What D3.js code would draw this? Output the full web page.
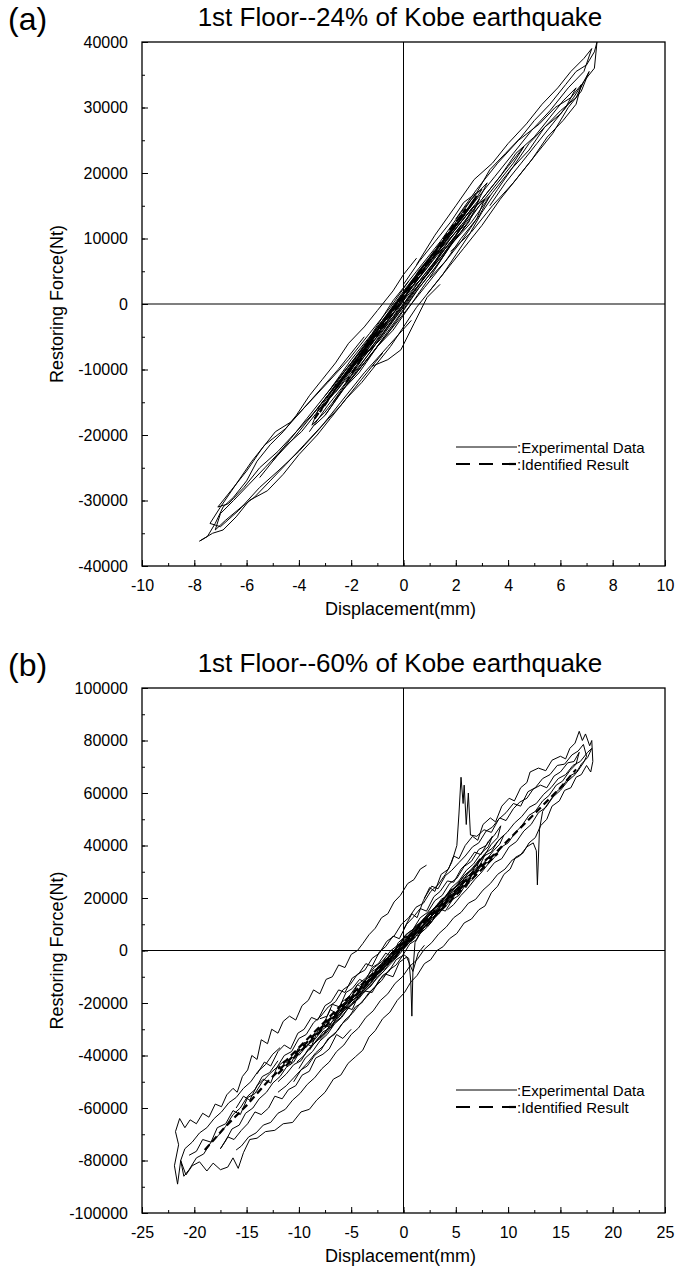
<!DOCTYPE html>
<html>
<head>
<meta charset="utf-8">
<script src="https://cdn.jsdelivr.net/npm/d3@7"></script>
<style>
  body { margin: 0; background: #fff; }
  text { font-family: "Liberation Sans", Arial, sans-serif; fill: #000; }
</style>
</head>
<body>
<div id="chart"></div>
<script>
// ---------------- data (displacement mm, restoring force N) ----------------

const xTicksA = [-10, -8, -6, -4, -2, 0, 2, 4, 6, 8, 10];
const yTicksA = [-40000, -30000, -20000, -10000, 0, 10000, 20000, 30000, 40000];
const xTicksB = [-25, -20, -15, -10, -5, 0, 5, 10, 15, 20, 25];
const yTicksB = [-100000, -80000, -60000, -40000, -20000, 0, 20000, 40000, 60000, 80000, 100000];

const titles = ["1st Floor--24% of Kobe earthquake", "1st Floor--60% of Kobe earthquake"];
const legendLabels = [":Experimental Data", ":Identified Result"];

// 24% Kobe : experimental loops
const exp24 = [
  [[0.0, 3000], [0.6, 6500], [1.2, 9500], [1.8, 12500], [2.3, 15500], [2.8, 17000], [3.3, 20500], [3.9, 23000],
   [4.5, 25500], [5.0, 28000], [5.6, 30500], [6.2, 33500], [6.6, 35500], [7.0, 36500], [7.3, 38500], [7.4, 40000],
   [7.3, 36000], [6.9, 34000], [6.6, 31500], [6.0, 29500], [5.4, 27000], [4.8, 24500], [4.2, 21000], [3.6, 17500],
   [3.0, 14000], [2.5, 10500], [2.0, 7500], [1.5, 4500], [1.0, 2000], [0.5, -500], [0.0, -3500], [-0.5, -6500],
   [-1.0, -9000], [-1.6, -12000], [-2.2, -14500], [-2.8, -17500], [-3.3, -20000], [-4.0, -23000], [-4.6, -26000],
   [-5.2, -28500], [-5.9, -30000], [-6.4, -32500], [-6.9, -34500], [-7.3, -35000], [-7.8, -36200], [-7.5, -35500],
   [-7.2, -33500], [-6.9, -31000], [-6.5, -29500], [-6.0, -27000], [-5.6, -24000], [-5.1, -21500], [-4.6, -19500],
   [-4.1, -17000], [-3.6, -14000], [-3.1, -11500], [-2.6, -9000], [-2.1, -6000], [-1.5, -3500], [-1.0, -1000],
   [-0.4, 2000], [0.0, 4500], [0.5, 7000]],
  [[-1.2, -9500], [-0.6, -8500], [-0.1, -7000], [0.4, -3000], [0.9, 1000], [1.4, 3000]],
  [[-3.0, -14000], [-2.0, -9000], [-1.0, -3500], [0.0, 1500], [1.0, 6500], [2.0, 11500], [2.6, 14500], [3.1, 16000],
   [2.8, 13000], [2.2, 9500], [1.5, 6000], [0.8, 2500], [0.0, -1500], [-1.0, -6500], [-2.0, -11500], [-3.0, -16500],
   [-3.5, -18500], [-3.2, -15500], [-2.6, -12500]],
  [[2.0, 13000], [2.8, 17500], [3.6, 21500], [4.4, 25000], [5.2, 27500], [5.8, 30000], [6.4, 31500], [6.8, 33500],
   [6.6, 30500], [6.1, 28000], [5.5, 25500], [4.9, 22000], [4.2, 18500], [3.4, 15000], [2.6, 11000], [1.8, 8000]],
  [[-1.5, -5000], [-2.5, -10000], [-3.5, -14500], [-4.5, -19000], [-5.3, -21500], [-5.8, -24000], [-6.4, -27500],
   [-7.0, -31000], [-7.4, -33500], [-7.0, -34000], [-6.3, -31500], [-5.5, -28000], [-4.8, -25500], [-4.0, -22500],
   [-3.2, -19000], [-2.4, -15000], [-1.5, -10500], [-0.6, -6500], [0.3, -2500]],
  [[-3.3, -16500], [-2.5, -12000], [-1.6, -7500], [-0.8, -3000], [0.0, 1500], [0.8, 5500], [1.6, 9500], [2.4, 13500],
   [2.9, 16000], [2.5, 12500], [1.8, 9000], [1.0, 5000], [0.2, 1000], [-0.6, -3500], [-1.4, -8000], [-2.2, -12500],
   [-3.0, -17000], [-3.4, -18500]],
  [[-2.0, -10500], [-1.2, -6000], [-0.4, -1500], [0.4, 3000], [1.2, 7500], [2.0, 11000], [2.4, 12000], [2.0, 10000],
   [1.3, 6000], [0.5, 2000], [-0.3, -2500], [-1.1, -7000], [-1.9, -11000], [-2.3, -12500]],
  [[-1.0, -4000], [-0.3, 0], [0.4, 3500], [1.0, 6500], [1.5, 8500], [1.1, 5500], [0.5, 2500], [-0.2, -1500],
   [-0.9, -5500], [-1.4, -7500]],
  [[-2.8, -13000], [-2.0, -8500], [-1.2, -4500], [-0.4, 500], [0.5, 5000], [1.4, 9500], [2.2, 14000], [2.8, 17000],
   [3.0, 17500], [2.6, 15000], [1.9, 11500], [1.0, 7000], [0.1, 2500], [-0.8, -2500], [-1.6, -7000], [-2.4, -11500],
   [-3.1, -15000]],
  [[1.0, 4000], [1.8, 9000], [2.6, 12500], [3.4, 17000], [4.1, 20500], [4.8, 23500], [5.4, 27000], [6.0, 29000],
   [6.5, 31500], [6.9, 34000], [7.1, 35500], [6.8, 32500], [6.3, 30000], [5.7, 26000], [5.1, 23000], [4.4, 19500],
   [3.7, 16000], [3.0, 12000], [2.3, 8500], [1.6, 5000], [0.9, 1500]],
  [[0.5, 6000], [1.2, 10500], [2.0, 15000], [2.7, 19000], [3.4, 21500], [4.0, 24500], [4.7, 27500], [5.3, 30500],
   [5.9, 33000], [6.4, 35500], [6.9, 37500], [7.2, 39000], [6.9, 35500], [6.3, 33000], [5.6, 29500], [4.9, 26500],
   [4.2, 23000], [3.5, 19500], [2.8, 16000], [2.1, 12500], [1.4, 8500]],
  [[-0.8, -7500], [-1.6, -11500], [-2.4, -15500], [-3.1, -18500], [-3.8, -21500], [-4.5, -24500], [-5.1, -27000],
   [-5.7, -29500], [-6.2, -31000], [-6.8, -33000], [-7.2, -34500], [-7.0, -32000], [-6.5, -30000], [-5.9, -27500],
   [-5.3, -25000], [-4.6, -22000], [-3.9, -19500], [-3.2, -16000], [-2.5, -13000], [-1.8, -9500], [-1.1, -6000]],
  [[0.2, 3500], [-0.5, -500], [-1.3, -4500], [-2.1, -8500], [-2.9, -12000], [-3.6, -15000], [-4.3, -18000],
   [-4.9, -19500], [-5.4, -22000], [-6.0, -25500], [-6.6, -28500], [-7.1, -31000], [-6.7, -30500], [-6.1, -28000],
   [-5.5, -25000], [-4.8, -22500], [-4.1, -19500], [-3.4, -16500], [-2.7, -13000], [-2.0, -10000], [-1.3, -6500],
   [-0.6, -3000]],
  [[-2.6, -13500], [-1.9, -9500], [-1.2, -5500], [-0.5, -2000], [0.2, 2000], [0.9, 5500], [1.6, 9500], [2.3, 13000],
   [2.7, 15000], [2.2, 11500], [1.5, 7500], [0.8, 4000], [0.1, 0], [-0.6, -3500], [-1.3, -7500], [-2.0, -11000],
   [-2.7, -15000]],
  [[-3.6, -17500], [-2.9, -14000], [-2.2, -10000], [-1.5, -6500], [-0.8, -2500], [-0.1, 1000], [0.6, 5000],
   [1.3, 8500], [2.0, 12500], [2.6, 16000], [3.2, 18500], [2.7, 14500], [2.0, 10500], [1.3, 7000], [0.6, 3000],
   [-0.1, -500], [-0.8, -4500], [-1.5, -8000], [-2.2, -12000], [-2.9, -15500], [-3.6, -19500]],
  [[-1.8, -9000], [-1.2, -6500], [-0.6, -3000], [0.0, 0], [0.6, 3500], [1.2, 6500], [1.8, 10000], [2.2, 12000],
   [1.8, 9000], [1.2, 5500], [0.6, 2500], [0.0, -1000], [-0.6, -4500], [-1.2, -7500], [-1.8, -10500]],
  [[-3.0, -15500], [-2.3, -11000], [-1.7, -8500], [-1.0, -4500], [-0.4, -2000], [0.3, 2500], [0.9, 4500], [1.6, 8500],
   [2.2, 11000], [2.9, 15000], [3.3, 16500], [2.9, 13500], [2.2, 10000], [1.6, 6500], [0.9, 3500], [0.3, 0],
   [-0.4, -4000], [-1.0, -6500], [-1.7, -10500], [-2.3, -13000], [-3.0, -17000]],
  [[-5.0, -24000], [-4.3, -20500], [-3.7, -17500], [-3.0, -14000], [-2.3, -10500], [-1.6, -7000], [-0.9, -3500],
   [-0.2, 0], [0.5, 3500], [1.2, 7000], [1.9, 10500], [2.6, 14000], [3.3, 17500], [4.0, 21000], [4.6, 24000],
   [4.2, 21500], [3.5, 18000], [2.8, 14500], [2.1, 11000], [1.4, 7500], [0.7, 4000], [0.0, 500], [-0.7, -3000],
   [-1.4, -6500], [-2.1, -10000], [-2.8, -13500], [-3.5, -17000], [-4.2, -20500], [-4.9, -23500], [-5.5, -26500]],
  [[3.0, 16000], [3.7, 19500], [4.3, 23000], [5.0, 25500], [5.6, 28500], [6.1, 31000], [6.6, 33000], [6.2, 30000],
   [5.7, 27500], [5.1, 24500], [4.5, 21500], [3.9, 18500], [3.3, 15000]]
];

// 24% Kobe : identified loops
const id24 = [
  [[-3.4, -17500], [-2.6, -13000], [-1.8, -8500], [-1.0, -4000], [-0.2, 500], [0.6, 5000], [1.4, 9000], [2.2, 13000],
   [2.8, 16500], [2.3, 13500], [1.5, 9500], [0.7, 5500], [-0.1, 1000], [-0.9, -3500], [-1.7, -8000], [-2.5, -12500],
   [-3.2, -16500]],
  [[-2.2, -12000], [-1.4, -7000], [-0.6, -2500], [0.2, 2000], [1.0, 6500], [1.8, 11000], [2.4, 14500], [1.9, 12000],
   [1.1, 7500], [0.3, 3000], [-0.5, -1500], [-1.3, -6000], [-2.1, -10500]]
];

// 60% Kobe : experimental loops
const exp60 = [
  [[0, 8000], [0.8, 14000], [1.3, 12500], [1.9, 19000], [2.5, 24000], [3.0, 22500], [3.6, 29000], [4.3, 31000],
   [4.8, 36000], [5.3, 35000], [5.9, 40000], [6.6, 43500], [7.1, 42000], [7.6, 48000], [8.3, 50500], [8.8, 49000],
   [9.4, 55000], [10.1, 58000], [10.6, 57000], [11.2, 62000], [11.8, 64000], [12.1, 68000], [12.9, 69500],
   [13.6, 68500], [14.2, 72500], [15.0, 74000], [15.5, 73000], [15.9, 77000], [16.4, 79000], [16.8, 83500],
   [17.1, 80000], [17.4, 82500], [17.8, 78000], [18.0, 80000], [18.1, 72000], [17.9, 68000], [17.5, 70500],
   [17.0, 67000], [16.5, 66000], [16.0, 62000], [15.4, 61000], [14.9, 57000], [14.2, 55000], [13.7, 50000],
   [13.1, 47500], [12.6, 43000], [12.0, 41000], [11.4, 37000], [10.7, 35500], [10.2, 31000], [9.6, 29000],
   [9.0, 24500], [8.4, 22000], [7.8, 17000], [7.2, 15500], [6.5, 12000], [5.8, 10500], [5.1, 6500], [4.4, 4500],
   [3.8, 1500], [3.2, 0], [2.6, -3500], [2.0, -5000], [1.3, -9500], [0.7, -12000], [0.1, -16000], [-0.6, -19000],
   [-1.3, -23500], [-2.0, -26000], [-2.7, -30500], [-3.3, -33000], [-3.9, -38000], [-4.6, -40500], [-5.3, -43000],
   [-6.0, -47500], [-6.7, -49000], [-7.5, -54000], [-8.3, -57000], [-9.0, -60500], [-9.8, -61500], [-10.6, -65500],
   [-11.5, -66000], [-12.3, -68500], [-13.2, -69000], [-14.0, -71500], [-14.7, -72000], [-15.3, -77000],
   [-15.8, -83000], [-16.3, -79000], [-16.8, -82500], [-17.5, -83500], [-18.2, -81000], [-18.8, -84000],
   [-19.5, -80500], [-20.2, -82000], [-20.8, -85500], [-21.3, -80000], [-21.6, -89000], [-21.9, -82000],
   [-21.5, -74000], [-21.8, -69000], [-21.4, -64000], [-20.9, -67500], [-20.4, -64500], [-19.8, -66000],
   [-19.2, -62000], [-18.6, -63500], [-18.0, -58500], [-17.4, -59500], [-16.9, -55000], [-16.3, -52500],
   [-15.9, -54000], [-15.4, -48000], [-14.9, -45500], [-14.5, -40000], [-14.0, -41500], [-13.6, -34000],
   [-13.0, -35500], [-12.6, -30000], [-12.0, -31500], [-11.5, -27000], [-10.9, -25000], [-10.3, -26500],
   [-9.7, -21000], [-9.1, -19000], [-8.6, -15000], [-8.0, -16500], [-7.4, -11000], [-6.8, -10000], [-6.2, -5500],
   [-5.6, -6500], [-5.0, -1500], [-4.4, 0], [-3.9, 2600], [-3.3, 6000], [-2.7, 8500], [-2.1, 12500], [-1.5, 14000],
   [-0.9, 18500], [-0.3, 21000], [0.4, 25500], [1.0, 27000], [1.6, 31000], [2.2, 32500]],
  [[-20.5, -78000], [-19.8, -76500], [-19.2, -72000], [-18.4, -73000], [-17.8, -67500], [-17.0, -66000],
   [-16.3, -61000], [-15.6, -62500], [-14.9, -56000], [-14.2, -54500], [-13.5, -50000], [-12.8, -47000],
   [-12.1, -44500], [-11.4, -40000], [-10.7, -38500], [-10.0, -33500], [-9.3, -32000], [-8.6, -27500],
   [-7.9, -25000], [-7.2, -21500], [-6.5, -19500], [-5.8, -15000], [-5.1, -13000], [-4.4, -9000], [-3.7, -7500],
   [-3.0, -3000], [-2.3, -1000], [-1.6, 3500], [-0.9, 5500], [-0.2, 10000], [0.5, 12500], [1.2, 16500],
   [1.9, 18000], [2.6, 22500], [3.3, 25000], [4.0, 29000], [4.6, 33500], [5.1, 40000], [5.3, 52000], [5.5, 66000],
   [5.7, 56000], [5.8, 63000], [6.0, 48000], [6.2, 60000], [6.4, 44000], [7.0, 43500], [7.7, 46000], [8.4, 45000],
   [9.1, 50000], [9.8, 52500], [10.5, 56000], [11.2, 55000], [11.9, 60500], [12.6, 62000], [13.3, 65500],
   [14.0, 67000], [14.7, 70500], [15.4, 71000], [16.1, 74500], [16.7, 76000], [17.2, 78500], [17.5, 74000],
   [17.2, 71500], [16.6, 68000], [15.9, 66500], [15.2, 62500], [14.5, 60000], [13.9, 56500], [13.3, 53000],
   [13.0, 46000], [12.8, 25000], [12.7, 38000], [12.4, 41000], [11.8, 39500], [11.1, 36000], [10.4, 34500],
   [9.7, 31000], [9.0, 29000], [8.3, 25500], [7.6, 23000], [6.9, 19500], [6.2, 18000], [5.5, 14500], [4.8, 12500],
   [4.1, 9000], [3.4, 6500], [2.7, 3000], [2.0, 500], [1.3, -3500], [0.6, -6000], [-0.1, -10000], [-0.8, -12500],
   [-1.5, -16500], [-2.2, -19000], [-2.9, -23000], [-3.6, -25500], [-4.3, -29500], [-5.0, -32000], [-5.7, -36000],
   [-6.4, -38500], [-7.1, -42500], [-7.8, -45000], [-8.5, -48500], [-9.2, -51000], [-9.9, -54500], [-10.6, -57000],
   [-11.3, -60500], [-12.0, -62000], [-12.7, -65500], [-13.4, -66500], [-14.1, -69500], [-14.8, -71000],
   [-15.5, -74500], [-16.0, -76000]],
  [[-12.0, -50000], [-11.2, -47000], [-10.5, -43500], [-9.8, -42000], [-9.1, -37500], [-8.4, -35000], [-7.7, -31000],
   [-7.0, -29500], [-6.3, -25000], [-5.6, -22500], [-4.9, -19000], [-4.2, -17000], [-3.5, -12500], [-2.8, -10500],
   [-2.1, -6500], [-1.4, -4000], [-0.7, 0], [0.0, 2500], [0.7, 6000], [1.4, 8500], [2.1, 12000], [2.8, 14500],
   [3.5, 18000], [4.2, 20000], [4.9, 24000], [5.6, 26500], [6.3, 30000], [7.0, 32500], [7.7, 36000], [8.4, 37500],
   [9.0, 41500], [9.6, 44000], [9.2, 40500], [8.6, 38000], [7.9, 34500], [7.2, 31000], [6.5, 28500], [5.8, 24500],
   [5.1, 22000], [4.4, 18500], [3.7, 15500], [3.0, 12500], [2.3, 9000], [1.6, 6500], [1.1, 3000], [0.9, -8000],
   [0.8, -25000], [0.7, -12000], [0.5, -3000], [0.0, -1500], [-0.7, -5500], [-1.4, -7500], [-2.1, -11500],
   [-2.8, -14000], [-3.5, -17500], [-4.2, -20500], [-4.9, -24000], [-5.6, -26500], [-6.3, -30500], [-7.0, -33000],
   [-7.7, -36500], [-8.4, -39000], [-9.1, -42500], [-9.8, -45500], [-10.5, -48500], [-11.2, -51500], [-12.0, -54000]],
  [[-7.5, -29000], [-6.8, -25500], [-6.1, -23500], [-5.4, -19500], [-4.7, -17500], [-4.0, -13500], [-3.3, -11500],
   [-2.6, -7500], [-1.9, -5000], [-1.2, -1500], [-0.5, 1500], [0.2, 4500], [0.9, 7500], [1.6, 10500], [2.3, 13500],
   [3.0, 16500], [3.7, 19000], [4.4, 22500], [5.1, 24500], [5.8, 28500], [6.5, 30500], [7.2, 34000], [7.8, 36500],
   [7.3, 32500], [6.6, 29000], [5.9, 26500], [5.2, 22500], [4.5, 20000], [3.8, 16500], [3.1, 14000], [2.4, 10500],
   [1.7, 8000], [1.0, 4500], [0.3, 2000], [-0.4, -1500], [-1.1, -4500], [-1.8, -7500], [-2.5, -10500],
   [-3.2, -13500], [-3.9, -16000], [-4.6, -19500], [-5.3, -22000], [-6.0, -25500], [-6.7, -28000], [-7.4, -31500],
   [-8.0, -34000]],
  [[-4.2, -14500], [-3.6, -11000], [-3.0, -9500], [-2.4, -6000], [-1.8, -4500], [-1.2, -1000], [-0.6, 1000],
   [0.0, 4500], [0.6, 6000], [1.2, 9500], [1.8, 11000], [2.4, 14500], [3.0, 16000], [3.6, 19500], [4.2, 21000],
   [4.6, 23500], [4.1, 19500], [3.5, 17500], [2.9, 14000], [2.3, 12000], [1.7, 8500], [1.1, 6500], [0.5, 3000],
   [-0.1, 1000], [-0.7, -2500], [-1.3, -4500], [-1.9, -8000], [-2.5, -10000], [-3.1, -13500], [-3.7, -15500],
   [-4.3, -18500], [-4.9, -20000]],
  [[-9.0, -38000], [-8.2, -33500], [-7.5, -31500], [-6.8, -27000], [-6.1, -25000], [-5.4, -20500], [-4.7, -18500],
   [-4.0, -14000], [-3.3, -12000], [-2.6, -7500], [-1.9, -5500], [-1.2, -1000], [-0.5, 1500], [0.2, 6000],
   [0.9, 8000], [1.6, 12500], [2.3, 14500], [3.0, 19000], [3.7, 21000], [4.4, 25500], [5.1, 27500], [5.8, 32000],
   [6.5, 34000], [7.2, 38500], [7.9, 40000], [8.5, 43500], [8.1, 39500], [7.4, 37000], [6.7, 33000], [6.0, 30500],
   [5.3, 26500], [4.6, 24000], [3.9, 20000], [3.2, 17500], [2.5, 13500], [1.8, 11000], [1.1, 7000], [0.4, 4500],
   [-0.3, 500], [-1.0, -2000], [-1.7, -6000], [-2.4, -8500], [-3.1, -12500], [-3.8, -15000], [-4.5, -19000],
   [-5.2, -21500], [-5.9, -25500], [-6.6, -28000], [-7.3, -32000], [-8.0, -34500], [-8.7, -38500], [-9.4, -41000],
   [-10.0, -45000]],
  [[-12.0, -42000], [-12.8, -46500], [-13.5, -48000], [-14.2, -53000], [-14.9, -55500], [-15.6, -60000],
   [-16.3, -62500], [-17.0, -67000], [-17.7, -70500], [-18.4, -73000], [-19.1, -77500], [-19.8, -79000],
   [-20.5, -83500], [-21.0, -86000], [-21.3, -80000], [-20.9, -75500], [-20.2, -73000], [-19.5, -69500],
   [-18.8, -67500], [-18.1, -64000], [-17.4, -61500], [-16.7, -58000], [-16.0, -56000], [-15.3, -52500],
   [-14.6, -50000], [-13.9, -46000], [-13.2, -43500], [-12.5, -39500], [-11.8, -37000]],
  [[8.0, 30000], [8.7, 33500], [9.4, 35000], [10.1, 39500], [10.8, 41500], [11.5, 45500], [12.2, 48000],
   [12.9, 52500], [13.6, 54500], [14.3, 58500], [15.0, 61000], [15.7, 64500], [16.4, 67000], [17.0, 71000],
   [17.6, 73500], [18.0, 77000], [17.6, 75500], [16.9, 72000], [16.2, 70500], [15.5, 67000], [14.8, 65500],
   [14.1, 62000], [13.4, 59500], [12.7, 56000], [12.0, 54500], [11.3, 51000], [10.6, 48500], [9.9, 45000],
   [9.2, 42500], [8.5, 39000], [7.8, 37000], [7.1, 33500]],
  [[-14.0, -47000], [-13.3, -42500], [-12.7, -44000], [-12.0, -38500], [-11.4, -36000], [-10.8, -37500],
   [-10.1, -31500], [-9.5, -30000], [-8.8, -25500], [-8.2, -26500], [-7.5, -21000], [-6.9, -19500], [-6.2, -15000],
   [-5.6, -16000], [-4.9, -10500], [-4.3, -9000], [-3.6, -5000], [-3.0, -6000], [-2.3, -500], [-1.7, 1500],
   [-1.0, 5500], [-0.4, 4500], [0.3, 10000], [0.9, 12500], [1.6, 16000], [2.2, 15000], [2.9, 20500], [3.5, 22500],
   [4.2, 26500], [4.8, 26000], [5.5, 31000], [6.1, 33500], [6.8, 37500], [7.4, 36500], [8.1, 41500], [8.7, 44000],
   [9.3, 47500], [9.0, 43000], [8.4, 40500], [7.7, 36000], [7.1, 33500], [6.4, 29000], [5.8, 27500], [5.1, 22500],
   [4.5, 21000], [3.8, 16500], [3.2, 14000], [2.5, 10000], [1.9, 8500], [1.2, 4000], [0.6, 2500], [-0.1, -2000],
   [-0.7, -3500], [-1.4, -8000], [-2.0, -9500], [-2.7, -14000], [-3.3, -16000], [-4.0, -20000], [-4.6, -21500],
   [-5.3, -26000], [-5.9, -28000], [-6.6, -32000], [-7.2, -33500], [-7.9, -38000], [-8.5, -40000], [-9.2, -44000],
   [-9.8, -45500], [-10.5, -50000]],
  [[-5.0, -30000], [-5.8, -33500], [-6.4, -32000], [-7.1, -37500], [-7.7, -39500], [-8.4, -41000], [-9.0, -46000],
   [-9.7, -47500], [-10.3, -51500], [-11.0, -53000], [-11.6, -56500], [-12.3, -55500], [-12.9, -60000],
   [-13.6, -62500], [-14.2, -61500], [-14.9, -66000], [-15.5, -68500], [-16.2, -72000], [-16.8, -71000],
   [-17.5, -75500], [-17.0, -72500], [-16.4, -68000], [-15.7, -66500], [-15.1, -62000], [-14.4, -60000],
   [-13.8, -56500], [-13.1, -54000], [-12.5, -50500], [-11.8, -48000], [-11.2, -44500], [-10.5, -42500],
   [-9.9, -38500], [-9.2, -36500], [-8.6, -32500], [-7.9, -30500], [-7.3, -26500], [-6.6, -25000], [-6.0, -21000]],
  [[2.0, 20000], [2.7, 24500], [3.3, 23500], [4.0, 28500], [4.6, 30500], [5.3, 33500], [5.9, 36000], [6.6, 39500],
   [7.2, 41000], [7.9, 45500], [8.5, 47000], [9.2, 50500], [9.8, 49500], [10.5, 54000], [11.1, 56500], [11.8, 58000],
   [12.4, 61500], [13.1, 63000], [13.7, 62000], [14.4, 66500], [15.0, 68000], [15.7, 71500], [16.3, 72000],
   [16.8, 75500], [16.5, 71000], [15.9, 68500], [15.2, 64500], [14.6, 63000], [13.9, 59000], [13.3, 57000],
   [12.6, 53000], [12.0, 51500], [11.3, 47500], [10.7, 45000], [10.0, 41000], [9.4, 39500], [8.7, 35500],
   [8.1, 33000], [7.4, 29500], [6.8, 27000], [6.1, 23500], [5.5, 21000], [4.8, 17500], [4.2, 15500]],
  [[-6.0, -20000], [-5.2, -17500], [-4.4, -13000], [-3.6, -10500], [-2.8, -6500], [-2.0, -4000], [-1.2, 0],
   [-0.4, 2500], [0.4, 6500], [1.2, 9000], [2.0, 12500], [2.8, 15500], [3.6, 18500], [4.4, 21500], [5.2, 25000],
   [5.8, 27000], [5.2, 23000], [4.4, 20000], [3.6, 16500], [2.8, 13500], [2.0, 10000], [1.2, 7000], [0.4, 3500],
   [-0.4, 500], [-1.2, -3000], [-2.0, -6000], [-2.8, -9500], [-3.6, -12500], [-4.4, -16000], [-5.2, -19000],
   [-6.0, -22500], [-6.6, -25000]],
  [[-3.0, -8000], [-2.4, -6500], [-1.8, -3500], [-1.2, -2000], [-0.6, 1500], [0.0, 3000], [0.6, 6500], [1.2, 8000],
   [1.8, 11000], [2.4, 13000], [3.0, 15500], [2.5, 12000], [1.9, 9500], [1.3, 6500], [0.7, 4500], [0.1, 1500],
   [-0.5, -500], [-1.1, -3500], [-1.7, -5500], [-2.3, -8500], [-2.9, -10500], [-3.5, -13000]],
  [[-10.0, -40000], [-9.2, -36000], [-8.5, -34000], [-7.7, -30000], [-7.0, -28000], [-6.2, -24000], [-5.5, -21500],
   [-4.7, -17500], [-4.0, -15000], [-3.2, -11000], [-2.5, -8500], [-1.7, -4500], [-1.0, -2000], [-0.2, 2500],
   [0.5, 5000], [1.3, 9000], [2.0, 11500], [2.8, 15500], [3.5, 18000], [4.3, 22000], [5.0, 24500], [5.8, 28500],
   [6.5, 31000], [7.3, 35000], [7.0, 31500], [6.3, 29000], [5.5, 25000], [4.8, 22500], [4.0, 18500], [3.3, 16000],
   [2.5, 12000], [1.8, 9500], [1.0, 5500], [0.3, 3000], [-0.5, -1000], [-1.2, -3500], [-2.0, -7500], [-2.7, -10000],
   [-3.5, -14000], [-4.2, -16500], [-5.0, -20500], [-5.7, -23000], [-6.5, -27000], [-7.2, -29500], [-8.0, -33500],
   [-8.7, -36000], [-9.5, -40000], [-10.2, -42500]],
  [[-8.0, -26000], [-7.3, -25000], [-6.8, -20500], [-6.1, -21500], [-5.5, -16000], [-4.9, -14500], [-4.2, -11000],
   [-3.7, -12000], [-3.0, -6500], [-2.4, -5000], [-1.7, -1000], [-1.1, -2500], [-0.5, 3000], [0.2, 5500], [0.8, 4000],
   [1.5, 10000], [2.1, 11500], [2.8, 15500], [3.4, 14000], [4.1, 19500], [4.7, 21000], [5.4, 25500], [6.0, 24000],
   [6.6, 29500], [7.1, 31500], [6.6, 27000], [6.0, 25500], [5.3, 21000], [4.7, 19500], [4.0, 15000], [3.4, 16000],
   [2.7, 11000], [2.1, 9500], [1.4, 5500], [0.8, 6500], [0.1, 1500], [-0.5, -500], [-1.2, -4500], [-1.8, -3500],
   [-2.5, -9000], [-3.1, -10500], [-3.8, -14500], [-4.4, -13000], [-5.1, -18500], [-5.7, -20000], [-6.4, -24000],
   [-7.0, -22500], [-7.7, -28500], [-8.3, -30500]],
  [[-16.0, -60000], [-15.3, -55500], [-14.7, -57000], [-14.0, -51500], [-13.4, -49000], [-12.7, -50500],
   [-12.1, -44500], [-11.4, -42000], [-10.8, -43500], [-10.1, -37500], [-9.5, -35000], [-8.8, -36500],
   [-8.2, -30500], [-7.5, -28500], [-6.9, -29500], [-6.2, -24000], [-5.6, -21500], [-4.9, -22500], [-4.3, -17000],
   [-3.6, -15500], [-3.0, -16000], [-2.3, -11000], [-1.7, -9000], [-1.0, -10000], [-0.4, -4500], [0.3, -2500],
   [0.9, -8000], [1.4, -1000], [2.0, 2000]]
];

// 60% Kobe : identified loops
const id60 = [
  [[-12, -47000], [-10, -39000], [-8, -31000], [-6, -23000], [-4, -15000], [-2, -7000], [0, 1000], [2, 9000],
   [4, 17000], [6, 25000], [8, 33000], [9, 37000], [8, 35000], [6, 27000], [4, 19000], [2, 11000], [0, 3000],
   [-2, -5000], [-4, -13000], [-6, -21000], [-8, -29000], [-10, -37000], [-12, -45000]],
  [[-19, -76000], [-17, -67000], [-15, -59000], [-13, -50000], [-11, -42000], [-9, -34000], [-7, -26000],
   [-5, -18000], [-3, -10000], [-1, -2000], [1, 6000], [3, 14000], [5, 22000], [7, 30000], [9, 38000],
   [11, 46000], [13, 54000], [15, 62000], [16.5, 69000]]
];

// ---------------- drawing ----------------

const W = 675, H = 1268;
const svg = d3.select("#chart").append("svg")
    .attr("width", W)
    .attr("height", H);

const panels = [
  { tag: "(a)", title: titles[0], top: 42, bottom: 566, xDomain: [-10, 10], yDomain: [-40000, 40000],
    xTicks: xTicksA, yTicks: yTicksA, xMinor: 1, yMinor: 5000, exp: exp24, id: id24, legendY: 447 },
  { tag: "(b)", title: titles[1], top: 688, bottom: 1213, xDomain: [-25, 25], yDomain: [-100000, 100000],
    xTicks: xTicksB, yTicks: yTicksB, xMinor: 2.5, yMinor: 10000, exp: exp60, id: id60, legendY: 1090 }
];

const left = 142, right = 665;
const plain = d => String(d);   // keep the ascii hyphen like the original

panels.forEach((p, i) => drawPanel(p, i));

function drawPanel(p, i) {
  const x = d3.scaleLinear().domain(p.xDomain).range([left, right]);
  const y = d3.scaleLinear().domain(p.yDomain).range([p.bottom, p.top]);
  const g = svg.append("g");

  // clip so nothing leaves the frame
  g.append("clipPath").attr("id", "clip" + i)
    .append("rect")
    .attr("x", left).attr("y", p.top)
    .attr("width", right - left).attr("height", p.bottom - p.top);

  // zero lines
  g.append("line")
    .attr("x1", x(0)).attr("x2", x(0)).attr("y1", p.top).attr("y2", p.bottom)
    .attr("stroke", "#000").attr("stroke-width", 1);
  g.append("line")
    .attr("x1", left).attr("x2", right).attr("y1", y(0)).attr("y2", y(0))
    .attr("stroke", "#000").attr("stroke-width", 1.2);

  const line = d3.line().x(d => x(d[0])).y(d => y(d[1]));
  const data = g.append("g").attr("clip-path", `url(#clip${i})`);

  // experimental loops
  data.selectAll("path.exp")
    .data(p.exp)
    .enter().append("path")
    .attr("class", "exp")
    .attr("d", line)
    .attr("fill", "none")
    .attr("stroke", "#000")
    .attr("stroke-width", 1)
    .attr("stroke-linejoin", "round");

  // identified result (dashed)
  data.selectAll("path.id")
    .data(p.id)
    .enter().append("path")
    .attr("class", "id")
    .attr("d", line)
    .attr("fill", "none")
    .attr("stroke", "#000")
    .attr("stroke-width", 2.2)
    .attr("stroke-dasharray", "7,4");

  // frame
  g.append("rect")
    .attr("x", left).attr("y", p.top)
    .attr("width", right - left).attr("height", p.bottom - p.top)
    .attr("fill", "none").attr("stroke", "#000").attr("stroke-width", 1.3);

  // axes, ticks pointing inward
  const xAxis = d3.axisBottom(x).tickValues(p.xTicks).tickSize(-6).tickSizeOuter(0)
      .tickPadding(14).tickFormat(plain);
  const xMinorAxis = d3.axisBottom(x)
      .tickValues(d3.range(p.xDomain[0], p.xDomain[1] + 0.001, p.xMinor))
      .tickSize(-3).tickSizeOuter(0).tickFormat("");
  const yAxis = d3.axisLeft(y).tickValues(p.yTicks).tickSize(-6).tickSizeOuter(0)
      .tickPadding(14).tickFormat(plain);
  const yMinorAxis = d3.axisLeft(y)
      .tickValues(d3.range(p.yDomain[0], p.yDomain[1] + 1, p.yMinor))
      .tickSize(-3).tickSizeOuter(0).tickFormat("");

  [[xMinorAxis, "x"], [xAxis, "x"], [yMinorAxis, "y"], [yAxis, "y"]].forEach(([ax, k]) => {
    const a = g.append("g")
      .attr("transform", k === "x" ? `translate(0,${p.bottom})` : `translate(${left},0)`)
      .call(ax);
    a.select(".domain").remove();
    a.selectAll("line").attr("stroke", "#000").attr("stroke-width", 1);
    a.selectAll("text")
      .attr("font-family", '"Liberation Sans", Arial, sans-serif')
      .attr("font-size", 16)
      .attr("fill", "#000");
  });

  // axis titles
  g.append("text")
    .attr("x", (left + right) / 2 - 3)
    .attr("y", p.bottom + 43)
    .attr("text-anchor", "middle")
    .attr("dominant-baseline", "central")
    .attr("font-size", 18)
    .text("Displacement(mm)");

  g.append("text")
    .attr("transform", `translate(57,${(p.top + p.bottom) / 2}) rotate(-90)`)
    .attr("text-anchor", "middle")
    .attr("dominant-baseline", "central")
    .attr("font-size", 18)
    .text("Restoring Force(Nt)");

  // title and panel tag
  g.append("text")
    .attr("x", 400)
    .attr("y", p.top - 25)
    .attr("text-anchor", "middle")
    .attr("dominant-baseline", "central")
    .attr("font-size", 26)
    .text(p.title);

  g.append("text")
    .attr("x", 8)
    .attr("y", p.top - 12)
    .attr("font-family", '"Liberation Serif", "Times New Roman", serif')
    .attr("font-size", 32)
    .text(p.tag);

  // legend
  const lg = g.append("g");
  lg.append("line")
    .attr("x1", 456).attr("x2", 517).attr("y1", p.legendY).attr("y2", p.legendY)
    .attr("stroke", "#000").attr("stroke-width", 1);
  lg.append("line")
    .attr("x1", 456).attr("x2", 517).attr("y1", p.legendY + 17).attr("y2", p.legendY + 17)
    .attr("stroke", "#000").attr("stroke-width", 2.2).attr("stroke-dasharray", "14,9");
  lg.selectAll("text.leg")
    .data(legendLabels)
    .enter().append("text")
    .attr("class", "leg")
    .attr("x", 517)
    .attr("y", (d, j) => p.legendY + j * 17)
    .attr("dominant-baseline", "central")
    .attr("font-size", 15)
    .text(d => d);
}
</script>
</body>
</html>
